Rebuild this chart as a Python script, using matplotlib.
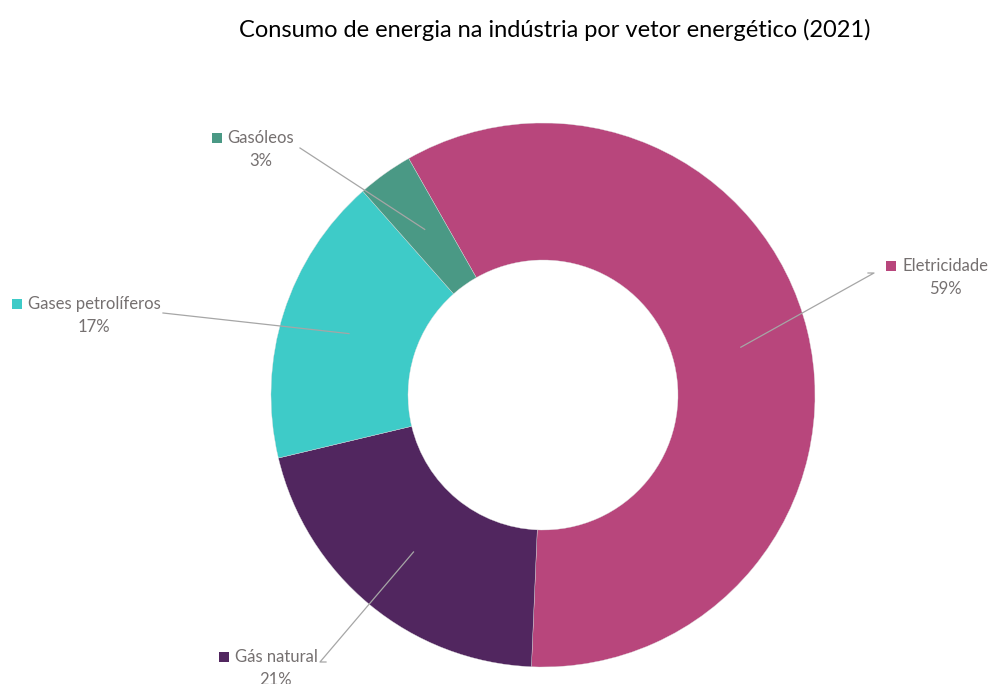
import matplotlib.pyplot as plt
import numpy as np

labels = ["Eletricidade", "Gás natural", "Gases petrolíferos", "Gasóleos"]
values = [58.9, 20.6, 17.2, 3.3]
colors = ["#B8467C", "#51265F", "#3ECBC8", "#4A9985"]
title = "Consumo de energia na indústria por vetor energético (2021)"

# label placement in pixel coords (x, y from top)
name_pos = [(945, 266), (276, 657), (94, 304), (261, 138)]
line_end = [(868, 273), (326, 662), (163, 313), (300, 148)]
elbow = [6, -6, 0, 0]

W, H = 992, 684
plt.rcParams["font.family"] = ["Lato", "DejaVu Sans"]
fig = plt.figure(figsize=(W / 100, H / 100), dpi=100)
ax = fig.add_axes([0, 0, 1, 1])

cx, cy = 543, H - 395
r_out, r_in = 272, 135
wedges, _ = ax.pie(values, colors=colors, startangle=119.6, counterclock=False,
                   radius=r_out, center=(cx, cy), frame=True,
                   wedgeprops=dict(width=r_out - r_in, edgecolor="#dddddd", linewidth=0.25))
ax.set_xlim(0, W)
ax.set_ylim(0, H)
ax.set_aspect("equal")
ax.axis("off")

total = sum(values)
txt_col = "#757070"
fig.canvas.draw()
rend = fig.canvas.get_renderer()
for w, lab, v, c, (nx, ny), (lx, ly), el in zip(wedges, labels, values, colors,
                                                   name_pos, line_end, elbow):
    mid = np.deg2rad((w.theta1 + w.theta2) / 2)
    rm = (r_out + r_in) / 2
    px, py = cx + rm * np.cos(mid), cy + rm * np.sin(mid)
    xs = [px, lx + el, lx] if el else [px, lx]
    ys = [py, H - ly, H - ly] if el else [py, H - ly]
    ax.plot(xs, ys, color="#A6A6A6", lw=0.9)
    t = ax.text(nx, H - ny, lab, ha="center", va="center", fontsize=12, color=txt_col)
    ax.text(nx, H - ny - 23, f"{round(v / total * 100):.0f}%", ha="center",
            va="center", fontsize=12, color=txt_col)
    bb = t.get_window_extent(rend)
    ax.scatter([bb.x0 - 11], [H - ny], marker="s", s=55, color=c, lw=0)

ax.text(555, H - 30, title, ha="center", va="center", fontsize=17, color="black")

fig.savefig("out.png", dpi=100)
